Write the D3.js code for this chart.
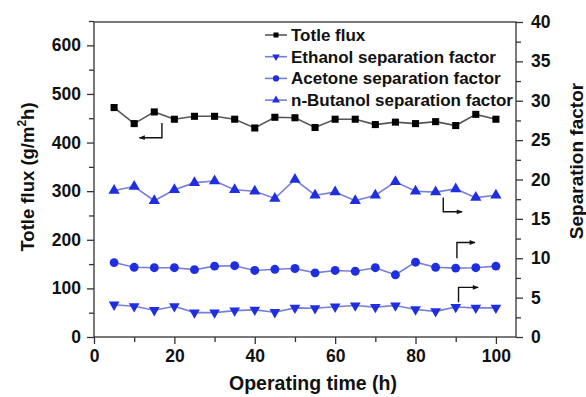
<!DOCTYPE html>
<html>
<head>
<meta charset="utf-8">
<script src="https://cdn.jsdelivr.net/npm/d3@7.9.0/dist/d3.min.js"></script>
<style>
  body { margin: 0; background: #fff; }
  svg text { font-family: "Liberation Sans", Arial, sans-serif; font-weight: bold; fill: #111; }
</style>
</head>
<body>
<svg id="chart" width="586" height="397"></svg>
<script>
const times = [5, 10, 15, 20, 25, 30, 35, 40, 45, 50, 55, 60, 65, 70, 75, 80, 85, 90, 95, 100];
const totleFlux = [472, 439, 463, 448, 454, 454, 448, 430, 452, 451, 431, 448, 448, 437, 442, 439, 443, 435, 458, 448];
const ethanolSF = [4.1, 3.9, 3.4, 3.9, 3.1, 3.1, 3.35, 3.45, 3.15, 3.7, 3.65, 3.85, 4.0, 3.8, 4.0, 3.5, 3.25, 3.8, 3.7, 3.7];
const acetoneSF = [9.45, 8.85, 8.8, 8.8, 8.55, 9.0, 9.05, 8.45, 8.6, 8.7, 8.15, 8.45, 8.35, 8.8, 7.9, 9.5, 8.85, 8.75, 8.8, 9.0];
const butanolSF = [18.6, 19.1, 17.3, 18.7, 19.6, 19.8, 18.7, 18.5, 17.6, 20.0, 18.0, 18.4, 17.3, 18.0, 19.7, 18.5, 18.4, 18.8, 17.7, 18.0];

const xTicks = [0, 20, 40, 60, 80, 100];
const leftTicks = [0, 100, 200, 300, 400, 500, 600];
const rightTicks = [0, 5, 10, 15, 20, 25, 30, 35, 40];

const legendLabels = ["Totle flux", "Ethanol separation factor", "Acetone separation factor", "n-Butanol separation factor"];

// little bent arrows pointing at each series' axis
const fluxArrow = [[16.9, 440], [16.9, 410], [11.3, 410]];
const butanolArrow = [[86.9, 17.7], [86.9, 15.9], [91.6, 15.9]];
const acetoneArrow = [[90.3, 10.0], [90.3, 12.0], [94.8, 12.0]];
const ethanolArrow = [[90.7, 4.4], [90.7, 6.3], [95.6, 6.3]];

const margin = { left: 94, right: 70, top: 22, bottom: 60 };
const width = 586, height = 397;
const svg = d3.select("#chart");

const x = d3.scaleLinear().domain([0, 105]).range([margin.left, width - margin.right]);
const yLeft = d3.scaleLinear().domain([0, 648]).range([height - margin.bottom, margin.top]);
const yRight = d3.scaleLinear().domain([0, 40]).range([height - margin.bottom, margin.top]);

const blue = "#1f2fe0";
const blueLine = "#7a7fd6";

svg.append("defs").append("marker")
  .attr("id", "head")
  .attr("viewBox", "0 0 10 10")
  .attr("refX", 9).attr("refY", 5)
  .attr("markerWidth", 7).attr("markerHeight", 6)
  .attr("markerUnits", "userSpaceOnUse")
  .attr("orient", "auto")
  .append("path").attr("d", "M0,1L10,5L0,9Z").attr("fill", "#111");

// frame
svg.append("rect")
  .attr("x", x(0)).attr("y", margin.top)
  .attr("width", x(105) - x(0)).attr("height", yLeft(0) - margin.top)
  .attr("fill", "none").attr("stroke", "#333").attr("stroke-width", 1.3);

function styleAxis(g) {
  g.selectAll(".domain").remove();
  g.selectAll("line").attr("stroke", "#333").attr("stroke-width", 1.3);
  g.selectAll("text").style("font-size", "17.5px");
}

// x axis with minor ticks
svg.append("g")
  .attr("transform", `translate(0,${yLeft(0)})`)
  .call(d3.axisBottom(x).tickValues(d3.range(10, 101, 20)).tickSize(5).tickFormat(""))
  .call(styleAxis);
svg.append("g")
  .attr("transform", `translate(0,${yLeft(0)})`)
  .call(d3.axisBottom(x).tickValues(xTicks).tickSize(7).tickPadding(6))
  .call(styleAxis);

// left axis
svg.append("g")
  .attr("transform", `translate(${x(0)},0)`)
  .call(d3.axisLeft(yLeft).tickValues(d3.range(50, 651, 100)).tickSize(5).tickFormat(""))
  .call(styleAxis);
svg.append("g")
  .attr("transform", `translate(${x(0)},0)`)
  .call(d3.axisLeft(yLeft).tickValues(leftTicks).tickSize(7).tickPadding(6))
  .call(styleAxis);

// right axis
svg.append("g")
  .attr("transform", `translate(${x(105)},0)`)
  .call(d3.axisRight(yRight).tickValues(d3.range(2.5, 40, 5)).tickSize(5).tickFormat(""))
  .call(styleAxis);
svg.append("g")
  .attr("transform", `translate(${x(105)},0)`)
  .call(d3.axisRight(yRight).tickValues(rightTicks).tickSize(7).tickPadding(8))
  .call(styleAxis);

// axis titles
svg.append("text")
  .attr("x", 313).attr("y", 390)
  .attr("text-anchor", "middle").style("font-size", "19.5px")
  .text("Operating time (h)");

const leftTitle = svg.append("text")
  .attr("transform", `translate(34,177) rotate(-90)`)
  .attr("text-anchor", "middle").style("font-size", "18.5px");
leftTitle.append("tspan").text("Totle flux (g/m");
leftTitle.append("tspan").attr("dy", -8).style("font-size", "12px").text("2");
leftTitle.append("tspan").attr("dy", 8).text("h)");

svg.append("text")
  .attr("transform", `translate(583,161) rotate(-90)`)
  .attr("text-anchor", "middle").style("font-size", "19px")
  .text("Separation factor");

// series
const series = [
  { values: totleFlux, y: yLeft, line: "#555", fill: "#000", symbol: d3.symbolSquare, size: 50, rot: 0 },
  { values: ethanolSF, y: yRight, line: blueLine, fill: blue, symbol: d3.symbolTriangle, size: 50, rot: 180 },
  { values: acetoneSF, y: yRight, line: blueLine, fill: blue, symbol: d3.symbolCircle, size: 62, rot: 0 },
  { values: butanolSF, y: yRight, line: blueLine, fill: blue, symbol: d3.symbolTriangle, size: 55, rot: 0 },
];

series.forEach((s) => {
  const line = d3.line().x((d, i) => x(times[i])).y((d) => s.y(d));
  svg.append("path")
    .attr("d", line(s.values))
    .attr("fill", "none").attr("stroke", s.line).attr("stroke-width", 1.6);
  svg.append("g").selectAll("path")
    .data(s.values)
    .join("path")
    .attr("d", d3.symbol(s.symbol, s.size))
    .attr("transform", (d, i) => `translate(${x(times[i])},${s.y(d)}) rotate(${s.rot})`)
    .attr("fill", s.fill);
});

// arrows
[[fluxArrow, yLeft], [butanolArrow, yRight], [acetoneArrow, yRight], [ethanolArrow, yRight]].forEach(([pts, ys]) => {
  svg.append("path")
    .attr("d", d3.line().x((d) => x(d[0])).y((d) => ys(d[1]))(pts))
    .attr("fill", "none").attr("stroke", "#111").attr("stroke-width", 1.4)
    .attr("marker-end", "url(#head)");
});

// legend
const legend = svg.append("g").attr("transform", "translate(265,35)");
legendLabels.forEach((label, i) => {
  const s = series[i];
  const row = legend.append("g").attr("transform", `translate(0,${i * 21.7})`);
  row.append("line").attr("x1", 0).attr("x2", 22).attr("stroke", s.line).attr("stroke-width", 1.6);
  row.append("path")
    .attr("d", d3.symbol(s.symbol, s.size * 0.5))
    .attr("transform", `translate(11,0) rotate(${s.rot})`)
    .attr("fill", s.fill);
  row.append("text")
    .attr("x", 26).attr("dy", "0.35em")
    .style("font-size", "17px")
    .text(label);
});
</script>
</body>
</html>
